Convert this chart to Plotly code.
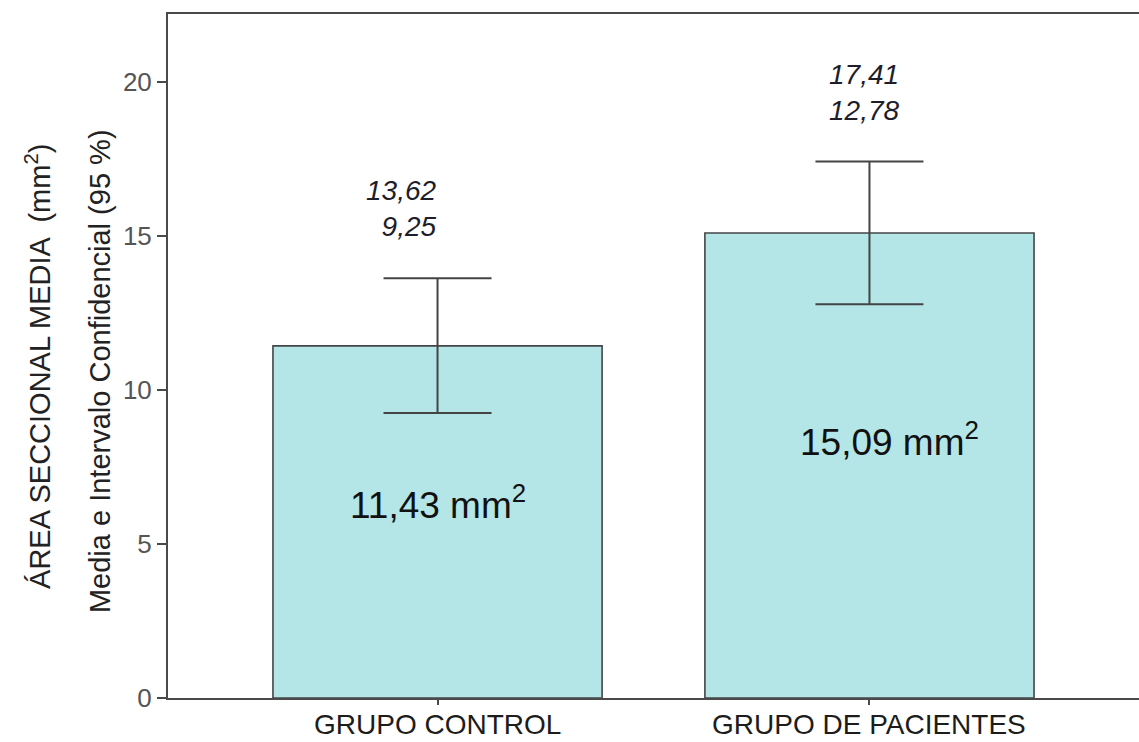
import plotly.graph_objects as go

# Data
groups = ["GRUPO CONTROL", "GRUPO DE PACIENTES"]
means = [11.43, 15.09]
ci_upper = [13.62, 17.41]
ci_lower = [9.25, 12.78]
y_ticks = [0, 5, 10, 15, 20]

FONT = "Liberation Sans, Arial, sans-serif"
AXIS = "#4a4a4a"
FILL = "#b4e6e8"


def fmt(v):
    return f"{v:.2f}".replace(".", ",")


fig = go.Figure()
fig.add_trace(go.Bar(
    x=groups,
    y=means,
    width=0.762,
    marker=dict(color=FILL, line=dict(color="#454545", width=1.6)),
    error_y=dict(
        type="data",
        symmetric=False,
        array=[u - m for u, m in zip(ci_upper, means)],
        arrayminus=[m - l for m, l in zip(means, ci_lower)],
        color="#444444",
        thickness=2,
        width=54,
    ),
    hoverinfo="skip",
))

# horizontal offsets for the text blocks
ci_label_shift = [1, 32]
mean_label_shift = [0, 20]

annotations = []
for i, g in enumerate(groups):
    # confidence interval bounds above each whisker
    annotations.append(dict(
        x=g, y=ci_upper[i], xref="x", yref="y",
        text=f"<i>{fmt(ci_upper[i])}</i><br><i>{fmt(ci_lower[i])}</i>",
        showarrow=False, align="right",
        xanchor="right", yanchor="bottom",
        xshift=ci_label_shift[i], yshift=34,
        font=dict(family=FONT, size=28, color="#1e1e2a"),
    ))
    # mean value inside the bar
    annotations.append(dict(
        x=g, y=means[i] * 0.555, xref="x", yref="y",
        text=f"{fmt(means[i])} mm<sup>2</sup>",
        showarrow=False, xanchor="center", yanchor="middle",
        xshift=mean_label_shift[i],
        font=dict(family=FONT, size=37, color="#111111"),
    ))
    # category name below the axis
    annotations.append(dict(
        x=g, y=0, xref="x", yref="paper",
        text=g, showarrow=False,
        xanchor="center", yanchor="middle", yshift=-26,
        font=dict(family=FONT, size=28, color="#1c1c1c"),
    ))

# two-line vertical axis title
annotations.append(dict(
    x=0, y=0.484, xref="paper", yref="paper", xshift=-130,
    text="ÁREA SECCIONAL MEDIA  (mm<sup>2</sup>)",
    textangle=-90, showarrow=False, xanchor="center", yanchor="middle",
    font=dict(family=FONT, size=29, color="#222222"),
))
annotations.append(dict(
    x=0, y=0.478, xref="paper", yref="paper", xshift=-68,
    text="Media e Intervalo Confidencial (95 %)",
    textangle=-90, showarrow=False, xanchor="center", yanchor="middle",
    font=dict(family=FONT, size=29, color="#222222"),
))

fig.update_layout(
    width=1139, height=742,
    margin=dict(l=168, r=0, t=14, b=44),
    paper_bgcolor="white", plot_bgcolor="white",
    showlegend=False,
    annotations=annotations,
    xaxis=dict(
        type="category",
        range=[-0.624, 1.624],
        automargin=False,
        showline=True, linecolor=AXIS, linewidth=2, mirror=True,
        ticks="outside", ticklen=5, tickwidth=2, tickcolor=AXIS,
        showticklabels=False,
        showgrid=False, zeroline=False,
        fixedrange=True,
    ),
    yaxis=dict(
        range=[0, 22.2],
        automargin=False,
        tickvals=y_ticks,
        ticktext=[str(v) for v in y_ticks],
        showline=True, linecolor=AXIS, linewidth=2, mirror=False,
        ticks="outside", ticklen=9, tickwidth=2, tickcolor=AXIS,
        showgrid=False, zeroline=False,
        tickfont=dict(family=FONT, size=26, color="#555555"),
        fixedrange=True,
    ),
)

fig.write_html("out.html", config={"displayModeBar": False})
